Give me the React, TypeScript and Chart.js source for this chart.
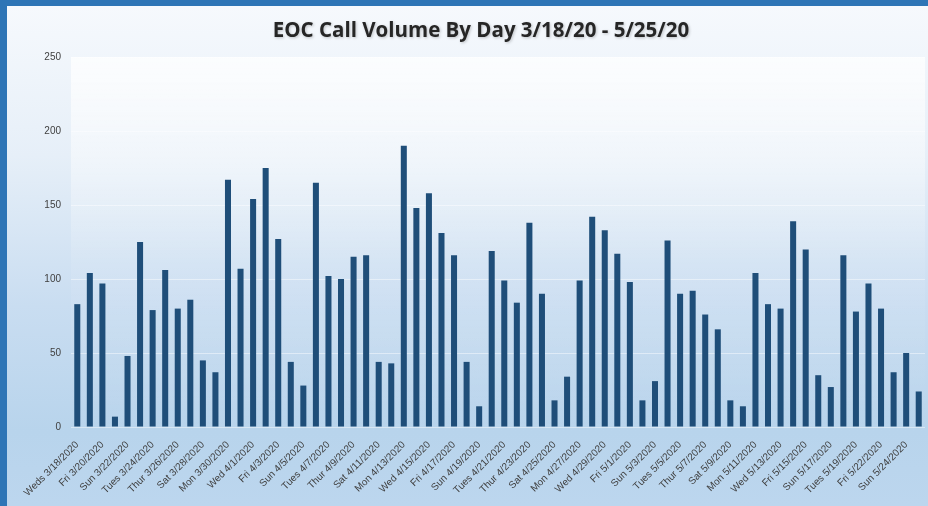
import React, { useEffect, useRef } from "react";
import { Chart, registerables } from "chart.js";

Chart.register(...registerables);

const TITLE = "EOC Call Volume By Day 3/18/20 - 5/25/20";

const dayLabels: string[] = [
  "Weds 3/18/2020", "Thur 3/19/2020", "Fri 3/20/2020", "Sat 3/21/2020", "Sun 3/22/2020",
  "Mon 3/23/2020", "Tues 3/24/2020", "Wed 3/25/2020", "Thur 3/26/2020", "Fri 3/27/2020",
  "Sat 3/28/2020", "Sun 3/29/2020", "Mon 3/30/2020", "Tues 3/31/2020", "Wed 4/1/2020",
  "Thur 4/2/2020", "Fri 4/3/2020", "Sat 4/4/2020", "Sun 4/5/2020", "Mon 4/6/2020",
  "Tues 4/7/2020", "Wed 4/8/2020", "Thur 4/9/2020", "Fri 4/10/2020", "Sat 4/11/2020",
  "Sun 4/12/2020", "Mon 4/13/2020", "Tues 4/14/2020", "Wed 4/15/2020", "Thur 4/16/2020",
  "Fri 4/17/2020", "Sat 4/18/2020", "Sun 4/19/2020", "Mon 4/20/2020", "Tues 4/21/2020",
  "Wed 4/22/2020", "Thur 4/23/2020", "Fri 4/24/2020", "Sat 4/25/2020", "Sun 4/26/2020",
  "Mon 4/27/2020", "Tues 4/28/2020", "Wed 4/29/2020", "Thur 4/30/2020", "Fri 5/1/2020",
  "Sat 5/2/2020", "Sun 5/3/2020", "Mon 5/4/2020", "Tues 5/5/2020", "Wed 5/6/2020",
  "Thur 5/7/2020", "Fri 5/8/2020", "Sat 5/9/2020", "Sun 5/10/2020", "Mon 5/11/2020",
  "Tues 5/12/2020", "Wed 5/13/2020", "Thur 5/14/2020", "Fri 5/15/2020", "Sat 5/16/2020",
  "Sun 5/17/2020", "Mon 5/18/2020", "Tues 5/19/2020", "Wed 5/20/2020", "Fri 5/22/2020",
  "Sat 5/23/2020", "Sun 5/24/2020", "Mon 5/25/2020",
];

const callVolume: number[] = [
  83, 104, 97, 7, 48, 125, 79, 106, 80, 86, 45, 37, 167, 107, 154, 175, 127, 44, 28, 165,
  102, 100, 115, 116, 44, 43, 190, 148, 158, 131, 116, 44, 14, 119, 99, 84, 138, 90, 18, 34,
  99, 142, 133, 117, 98, 18, 31, 126, 90, 92, 76, 66, 18, 14, 104, 83, 80, 139, 120, 35,
  27, 116, 78, 97, 80, 37, 50, 24,
];

const yMin = 0;
const yMax = 250;
const yStep = 50;

const plotBg = {
  id: "plotBg",
  beforeDraw(chart: any) {
    const { ctx, chartArea } = chart;
    if (!chartArea) return;
    const g = ctx.createLinearGradient(0, chartArea.top, 0, chartArea.bottom);
    g.addColorStop(0, "rgba(255,255,255,0.75)");
    g.addColorStop(0.55, "rgba(255,255,255,0.1)");
    g.addColorStop(1, "rgba(255,255,255,0)");
    ctx.save();
    ctx.fillStyle = g;
    ctx.fillRect(chartArea.left, chartArea.top, chartArea.right - chartArea.left, chartArea.bottom - chartArea.top);
    ctx.restore();
  },
};

const titlePlugin = {
  id: "shadowTitle",
  afterDraw(chart: any) {
    const { ctx } = chart;
    ctx.save();
    ctx.font = "bold 20.5px 'Open Sans', sans-serif";
    ctx.fillStyle = "#262626";
    ctx.textAlign = "center";
    ctx.textBaseline = "middle";
    ctx.shadowColor = "rgba(0,0,0,0.22)";
    ctx.shadowBlur = 3;
    ctx.shadowOffsetX = 1;
    ctx.shadowOffsetY = 1.5;
    ctx.fillText(TITLE, 481, 31);
    ctx.restore();
  },
};

export default function App() {
  const ref = useRef<HTMLCanvasElement>(null);

  useEffect(() => {
    if (!ref.current) return;
    const chart = new Chart(ref.current, {
      type: "bar",
      data: {
        labels: dayLabels,
        datasets: [
          {
            data: callVolume,
            backgroundColor: "#1F4E79",
            borderWidth: 0,
            categoryPercentage: 1,
            barPercentage: 0.48,
          },
        ],
      },
      options: {
        animation: false,
        responsive: false,
        layout: { padding: { left: 0, right: 3, top: 57, bottom: 0 } },
        plugins: {
          legend: { display: false },
          tooltip: { enabled: false },
          title: { display: false },
        },
        scales: {
          x: {
            grid: { display: false, drawTicks: false },
            border: { display: false },
            ticks: {
              autoSkip: false,
              minRotation: 45,
              maxRotation: 45,
              padding: 12,
              color: "#404040",
              font: { family: "'Liberation Sans', sans-serif", size: 10 },
              callback: (_v: any, i: number) => (i % 2 === 0 ? dayLabels[i] : ""),
            },
            afterFit: (s: any) => {
              s.height = 79;
              s.paddingLeft = 0;
              s.paddingRight = 0;
              s.paddingTop = 0;
              s.paddingBottom = 0;
            },
          },
          y: {
            min: yMin,
            max: yMax,
            grid: { color: "rgba(255,255,255,0.45)", drawTicks: false, lineWidth: 1 },
            border: { display: false },
            ticks: {
              stepSize: yStep,
              padding: 10,
              color: "#404040",
              font: { family: "'Liberation Sans', sans-serif", size: 10 },
            },
            afterFit: (s: any) => {
              s.width = 71;
              s.paddingTop = 0;
              s.paddingBottom = 0;
            },
          },
        },
      },
      plugins: [plotBg, titlePlugin],
    });
    return () => chart.destroy();
  }, []);

  return (
    <div
      style={{
        position: "absolute",
        left: 0,
        top: 0,
        width: 928,
        height: 506,
        boxSizing: "border-box",
        borderLeft: "7px solid #2E75B6",
        borderTop: "6px solid #2E75B6",
        background: "linear-gradient(180deg, #F6F9FD 0%, #E6EFF8 30%, #C9DDF1 60%, #B8D4EC 85%, #BCD6EE 100%)",
      }}
    >
      <canvas
        ref={ref}
        width={928}
        height={506}
        style={{ position: "absolute", left: -7, top: -6, width: 928, height: 506 }}
      />
    </div>
  );
}
